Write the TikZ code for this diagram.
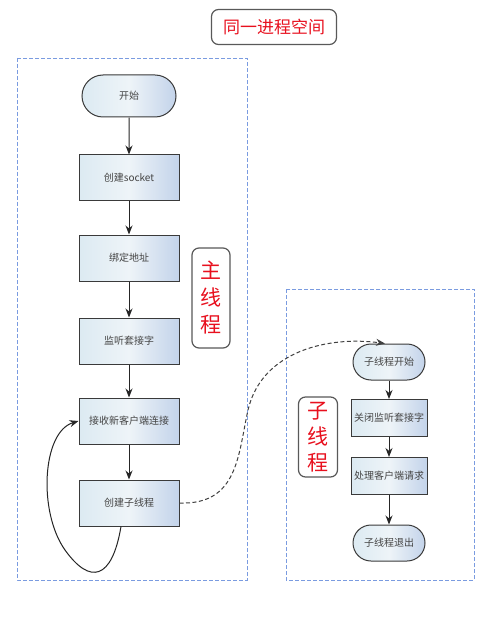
\documentclass[tikz,border=0pt]{standalone}
\usepackage{fontspec}
\setmainfont{Noto Sans CJK SC}
\usetikzlibrary{arrows.meta,shapes.misc}
\definecolor{bluedash}{HTML}{7A9BE0}
\definecolor{nodeL}{HTML}{DCEAF2}
\definecolor{nodeM}{HTML}{EEF4F8}
\definecolor{nodeR}{HTML}{C3D3EA}
\definecolor{edge}{HTML}{3A3A3A}
\definecolor{txt}{HTML}{444444}
\definecolor{redtxt}{HTML}{E8101E}
\tikzset{
  proc/.style={draw=edge, line width=1pt, left color=nodeL, right color=nodeR, middle color=nodeM,
    minimum width=100pt, minimum height=46pt, inner sep=1pt, font=\fontsize{10}{12}\selectfont, text=txt},
  sproc/.style={proc, minimum width=76pt, minimum height=37pt},
  term/.style={proc, rounded rectangle, minimum width=96pt, minimum height=42pt},
  sterm/.style={proc, rounded rectangle, minimum width=74pt, minimum height=36pt},
  region/.style={draw=bluedash, line width=0.9pt, dash pattern=on 4pt off 2pt},
  tag/.style={draw=gray!70!black, line width=1.2pt, rounded corners=7pt, text=redtxt, fill=white},
  flow/.style={draw=black!85, line width=1pt, -{Stealth[length=9pt,width=7pt]}},
}
\begin{document}
\begin{tikzpicture}[x=1pt,y=-1pt]
\useasboundingbox (0,0) rectangle (490,628);
\fill[white] (0,0) rectangle (490,628);
% regions
\draw[region] (17,58) rectangle (247,580);
\draw[region] (286,289) rectangle (474,580);
% title
\node[tag, minimum width=125pt, minimum height=35pt, font=\fontsize{17}{20}\selectfont] (title) at (274,27) {同一进程空间};
% labels
\node[tag, minimum width=38pt, minimum height=100pt, align=center, font=\fontsize{21}{27}\selectfont, inner sep=1pt] (mainlbl) at (211,298) {主\\线\\程};
\node[tag, minimum width=39pt, minimum height=80pt, align=center, font=\fontsize{21}{26}\selectfont, inner sep=1pt] (sublbl) at (318,437) {子\\线\\程};
% main thread
\node[term] (start) at (129,96) {开始};
\node[proc] (sock) at (129,178) {创建socket};
\node[proc] (bind) at (129,258) {绑定地址};
\node[proc] (listen) at (129,341) {监听套接字};
\node[proc] (accept) at (129,421) {接收新客户端连接};
\node[proc] (create) at (129,503) {创建子线程};
% sub thread
\node[sterm] (sstart) at (389,362) {子线程开始};
\node[sproc] (sclose) at (389,418) {关闭监听套接字};
\node[sproc] (shandle) at (389,476) {处理客户端请求};
\node[sterm] (sexit) at (389,543) {子线程退出};
% arrows
\draw[flow] (start) -- (sock);
\draw[flow] (sock) -- (bind);
\draw[flow] (bind) -- (listen);
\draw[flow] (listen) -- (accept);
\draw[flow] (accept) -- (create);
\draw[flow] ([xshift=-8pt]create.south) .. controls (112,580) and (90,585) .. (65,550)
  .. controls (38,512) and (42,432) .. (accept.west);
\draw[flow] (sstart) -- (sclose);
\draw[flow] (sclose) -- (shandle);
\draw[flow] (shandle) -- (sexit);
\draw[draw=black!75, line width=1pt, dash pattern=on 4pt off 2.5pt, -{Stealth[length=9pt,width=7pt]}]
  (create.east) .. controls (238,505) and (238,455) .. (248,410)
  .. controls (262,350) and (330,336) .. ([xshift=-4pt]sstart.north);
\end{tikzpicture}
\end{document}
